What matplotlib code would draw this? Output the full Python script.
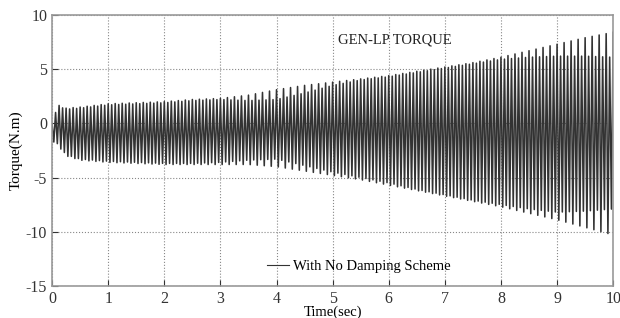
#!/usr/bin/env python3
import numpy as np
import matplotlib
matplotlib.use("Agg")
import matplotlib.pyplot as plt

# envelope of the torque oscillation (time in s, torque in N.m)
t_env = [0.0, 0.1, 0.25, 0.5, 1.0, 1.5, 2.0, 2.5, 3.0, 3.5, 4.0, 4.5, 5.0, 5.5,
         6.0, 6.5, 7.0, 7.5, 8.0, 8.5, 9.0, 9.5, 10.0]
upper_outer = [0.0, 1.7, 1.4, 1.5, 1.8, 1.9, 2.0, 2.2, 2.3, 2.6, 3.1, 3.5, 3.8, 4.1,
               4.4, 4.8, 5.2, 5.6, 6.1, 6.7, 7.3, 7.9, 8.4]
upper_inner = [0.0, 1.6, 1.3, 1.4, 1.7, 1.8, 1.9, 2.1, 2.2, 2.1, 2.2, 2.8, 3.5, 4.0,
               4.3, 4.7, 5.1, 5.5, 5.9, 6.1, 6.2, 6.2, 6.1]
lower_outer = [-1.6, -2.0, -3.0, -3.4, -3.6, -3.7, -3.8, -3.8, -3.8, -3.8, -4.0, -4.4,
               -4.8, -5.2, -5.7, -6.2, -6.7, -7.2, -7.7, -8.3, -8.9, -9.6, -10.3]
lower_inner = [-1.5, -1.9, -2.9, -3.3, -3.5, -3.6, -3.7, -3.7, -3.6, -3.4, -3.3, -3.9,
               -4.5, -5.0, -5.5, -6.1, -6.6, -7.1, -7.5, -7.9, -8.2, -8.1, -7.9]
osc_freq = 16.0  # cycles per second

x_ticks = [0, 1, 2, 3, 4, 5, 6, 7, 8, 9, 10]
y_ticks = [-15, -10, -5, 0, 5, 10]

# turning points of the oscillation: every other cycle reaches the outer envelope
n_half = int(10.0 * osc_freq * 2)
t_pk = np.arange(n_half + 1) / (2 * osc_freq)
y_pk = []
for k, tk in enumerate(t_pk):
    cycle = k // 2
    if k % 2 == 0:
        env = upper_outer if cycle % 2 == 0 else upper_inner
    else:
        env = lower_outer if cycle % 2 == 0 else lower_inner
    y_pk.append(np.interp(tk, t_env, env))

plt.rcParams["font.family"] = ["Liberation Serif", "DejaVu Serif"]
plt.rcParams["axes.unicode_minus"] = False

fig = plt.figure(figsize=(6.2, 3.18), dpi=100)
ax = fig.add_axes([0.084, 0.101, 0.905, 0.852])

ax.plot(t_pk, y_pk, color="#333333", linewidth=1.15, label="With No Damping Scheme")

ax.set_xlim(0, 10)
ax.set_ylim(-15, 10)
ax.set_xticks(x_ticks)
ax.set_yticks(y_ticks)
ax.tick_params(direction="in", length=4, labelsize=11.5, colors="#333333")
ax.grid(True, linestyle=":", color="#888888", linewidth=0.8)
for s in ax.spines.values():
    s.set_color("#999999")
    s.set_linewidth(1.2)

ax.text(6.1, 7.7, "GEN-LP TORQUE", fontsize=10.5, ha="center", va="center",
        color="#222222")
ax.set_xlabel("Time(sec)", fontsize=10.5, labelpad=-1)
ax.set_ylabel("Torque(N.m)", fontsize=11, labelpad=2)
leg = ax.legend(loc="lower left", bbox_to_anchor=(0.36, 0.0), frameon=False,
                fontsize=10.5, handlelength=1.5, handletextpad=0.3)
for h in leg.legend_handles:
    h.set_linewidth(0.8)

fig.savefig("out.png", dpi=100)
